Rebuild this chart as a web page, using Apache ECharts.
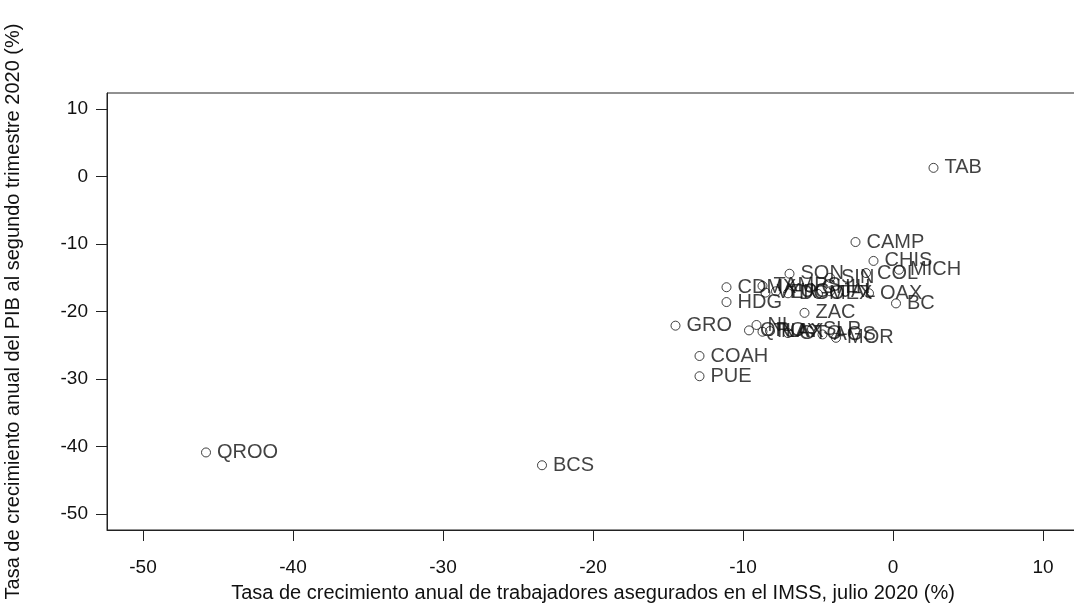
<!DOCTYPE html>
<html>
<head>
<meta charset="utf-8">
<script src="https://cdn.jsdelivr.net/npm/echarts@6/dist/echarts.min.js"></script>
<style>html,body{margin:0;padding:0;background:#fff}#c{width:1074px;height:608px}</style>
</head>
<body>
<div id="c"></div>
<script>
var states = ["TAB","CAMP","CHIS","COL","MICH","BC","SON","SIN","OAX","CDMX","TAMPS","VER","YUC","DGO","CHIH","MEX","JAL","HDG","ZAC","GRO","NL","QRO","TLAX","NAY","GTO","SLP","AGS","MOR","COAH","PUE","QROO","BCS"];
var empleo = [2.7,-2.5,-1.3,-1.8,0.4,0.2,-6.9,-4.2,-1.6,-11.1,-8.7,-8.5,-7.8,-7.0,-5.5,-5.0,-4.2,-11.1,-5.9,-14.5,-9.1,-9.6,-8.7,-8.2,-7.0,-5.4,-4.7,-3.8,-12.9,-12.9,-45.8,-23.4];
var pib = [1.3,-9.7,-12.5,-14.3,-13.8,-18.8,-14.4,-15.0,-17.3,-16.4,-16.2,-17.2,-17.0,-17.3,-16.5,-17.4,-17.0,-18.6,-20.2,-22.1,-22.0,-22.8,-23.0,-22.9,-23.2,-22.6,-23.4,-23.9,-26.6,-29.6,-40.9,-42.8];
var xTicks = [-50,-40,-30,-20,-10,0,10];
var yTicks = [-50,-40,-30,-20,-10,0,10];

var pts = states.map(function(s,i){ return {name:s, value:[empleo[i], pib[i]]}; });
var font = "'Liberation Sans', Arial, sans-serif";
var chart = echarts.init(document.getElementById('c'));
chart.setOption({
  animation:false,
  grid:{left:107, top:93, width:972, height:437, show:true, borderColor:'#222', borderWidth:1, containLabel:false, outerBoundsMode:'none'},
  xAxis:{type:'value', min:-52.4, max:12.4, splitLine:{show:false},
    axisLine:{show:true, onZero:false, lineStyle:{color:'#222'}},
    axisTick:{show:true, customValues:xTicks, length:11, inside:false, lineStyle:{color:'#222'}},
    axisLabel:{customValues:xTicks, margin:28, fontSize:19, color:'#111', fontFamily:font},
    name:'Tasa de crecimiento anual de trabajadores asegurados en el IMSS, julio 2020 (%)',
    nameLocation:'middle', nameGap:53, nameTextStyle:{fontSize:20, color:'#111', fontFamily:font}},
  yAxis:{type:'value', min:-52.4, max:12.4, splitLine:{show:false},
    axisLine:{show:true, onZero:false, lineStyle:{color:'#222'}},
    axisTick:{show:true, customValues:yTicks, length:11, lineStyle:{color:'#222'}},
    axisLabel:{customValues:yTicks, margin:19, fontSize:19, color:'#111', fontFamily:font},
    name:'Tasa de crecimiento anual del PIB al segundo trimestre 2020 (%)',
    nameLocation:'middle', nameGap:84, nameTextStyle:{fontSize:20, color:'#111', fontFamily:font}},
  series:[{type:'scatter', data:pts, symbol:'circle', symbolSize:9,
    itemStyle:{color:'rgba(0,0,0,0)', borderColor:'#111', borderWidth:1},
    label:{show:true, position:'right', distance:6, formatter:'{b}', fontSize:20, color:'#111', fontFamily:font},
    emphasis:{disabled:true}}]
});
</script>
</body>
</html>
